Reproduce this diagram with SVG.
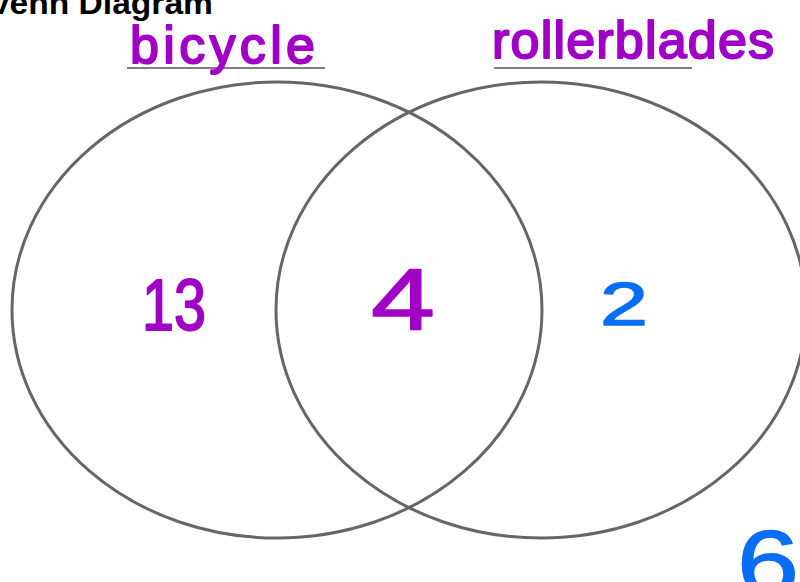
<svg xmlns="http://www.w3.org/2000/svg" width="800" height="582" viewBox="0 0 800 582">
<style>
.circle{fill:none;stroke:#666;stroke-width:3}
.ul{stroke:#555;stroke-width:1.6}
.hand{font-family:"Liberation Sans",Arial,sans-serif;stroke-linejoin:round;stroke-linecap:round}
.purple{fill:#a000c6;stroke:#a000c6}
.blue{fill:#0a6df5;stroke:#0a6df5}
.title{font-family:"Liberation Sans",Arial,sans-serif;font-weight:bold;fill:#000}
</style>
<rect width="800" height="582" fill="#fff"/>
<text class="title" x="-11" y="14" font-size="31" textLength="224" lengthAdjust="spacingAndGlyphs">Venn Diagram</text>
<g id="circle-bicycle">
<ellipse class="circle" cx="277" cy="310" rx="265" ry="228"/>
</g>
<g id="circle-rollerblades">
<ellipse class="circle" cx="541" cy="310" rx="265" ry="228"/>
</g>
<g id="label-bicycle">
<line class="ul" x1="127" y1="68" x2="325" y2="68"/>
<text class="hand purple" x="130" y="63" font-size="52" stroke-width="2" textLength="185" lengthAdjust="spacing">bicycle</text>
</g>
<g id="label-rollerblades">
<line class="ul" x1="494" y1="68" x2="692" y2="68"/>
<text class="hand purple" x="492" y="58" font-size="52" stroke-width="2" textLength="282" lengthAdjust="spacing">rollerblades</text>
</g>
<g id="num-13"><text class="hand purple" x="142" y="330" font-size="72" stroke-width="2" textLength="64" lengthAdjust="spacingAndGlyphs">13</text></g>
<g id="num-4"><text class="hand purple" x="371" y="330" font-size="88" stroke-width="1.5" textLength="64" lengthAdjust="spacingAndGlyphs">4</text></g>
<g id="num-2"><text class="hand blue" x="600" y="325" font-size="62" stroke-width="1.5" textLength="48" lengthAdjust="spacingAndGlyphs">2</text></g>
<g id="num-6"><text class="hand blue" x="737" y="594" font-size="90" stroke-width="1.5" textLength="62" lengthAdjust="spacingAndGlyphs">6</text></g>
</svg>
